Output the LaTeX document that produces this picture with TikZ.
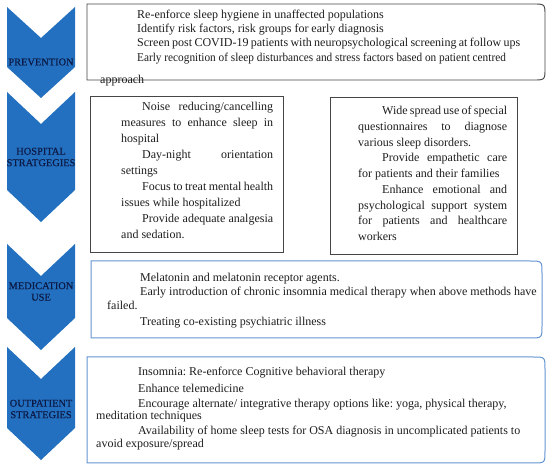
\documentclass[tikz,border=0pt]{standalone}
\usepackage{graphicx}
\usepackage{fontspec}
\setmainfont{Liberation Serif}
\newfontfamily\chevfont[FakeBold=0.5]{Liberation Serif}
\frenchspacing
\definecolor{chev}{RGB}{36,112,192}
\definecolor{chevtxt}{RGB}{12,26,70}
\definecolor{greyline}{RGB}{70,70,70}
\definecolor{blueline}{RGB}{100,150,210}
\definecolor{txt}{RGB}{30,30,30}
\newcommand\jl[2]{\makebox[#1pt][s]{#2}}
\begin{document}
\begin{tikzpicture}[x=1pt,y=-1pt,
  chevron/.style={fill=chev,draw=none},
  chevlabel/.style={font=\chevfont\fontsize{10.4}{11.5}\selectfont,text=chevtxt,align=center,inner sep=0},
  greybox/.style={draw=greyline,line width=0.9pt,fill=white},
  bluebox/.style={draw=blueline,line width=1pt,fill=white},
  tx/.style={anchor=base west,inner sep=0,text=txt,font=\fontsize{12}{14}\selectfont}]
\useasboundingbox (0,0) rectangle (550,468);
\fill[white] (0,0) rectangle (550,468);
% chevrons
\draw[chevron] (7,7) -- (41,38) -- (75,7) -- (75,67) -- (41,98) -- (7,67) -- cycle;
\draw[chevron] (7,92) -- (41,124) -- (75,92) -- (75,190) -- (41,222) -- (7,190) -- cycle;
\draw[chevron] (7,244) -- (41,276) -- (75,244) -- (75,318) -- (41,350) -- (7,318) -- cycle;
\draw[chevron] (7,347) -- (41,379) -- (75,347) -- (75,428) -- (41,460) -- (7,428) -- cycle;
\node[chevlabel] (c1) at (41,62) {PREVENTION};
\node[chevlabel] (c2) at (41,157) {HOSPITAL\\STRATGEGIES};
\node[chevlabel] (c3) at (41,291.5) {MEDICATION\\USE};
\node[chevlabel] (c4) at (41,409) {OUTPATIENT\\STRATEGIES};
% boxes
\draw[greybox] (87,4) -- (533,4) .. controls (545,4) .. (545,16) -- (545,68) .. controls (545,80) .. (533,80) -- (87,80) -- cycle;
\draw[greybox] (90,96) rectangle (283,252);
\draw[greybox] (330,97) rectangle (517,254);
\draw[bluebox] (91,261) -- (530,261) .. controls (542,261) .. (542,273) -- (542,326) .. controls (542,338) .. (530,338) -- (91,338) -- cycle;
\draw[bluebox] (87,357) -- (533,357) .. controls (545,357) .. (545,369) -- (545,451) .. controls (545,463) .. (533,463) -- (87,463) -- cycle;
% prevention text
\node[tx] (p1) at (137,19) {Re-enforce sleep hygiene in unaffected populations};
\node[tx] (p2) at (137,33) {Identify risk factors, risk groups for early diagnosis};
\node[tx] (p3) at (137,47) {\jl{383}{Screen post COVID-19 patients with neuropsychological screening at follow ups}};
\node[tx] (p4) at (137,62) {\scalebox{0.94}[1]{Early recognition of sleep disturbances and stress factors based on patient centred}};
\node[tx] (p5) at (100,84) {approach};
% hospital left
\node[tx] (h1) at (142,111) {\jl{131}{Noise reducing/cancelling}};
\node[tx] (h2) at (121,127) {\jl{152}{measures to enhance sleep in}};
\node[tx] (h3) at (121,143) {hospital};
\node[tx] (h4) at (142,159) {\jl{131}{Day-night orientation}};
\node[tx] (h5) at (121,175) {settings};
\node[tx] (h6) at (142,191) {\jl{131}{Focus to treat mental health}};
\node[tx] (h7) at (121,207) {issues while hospitalized};
\node[tx] (h8) at (142,223) {\jl{131}{Provide adequate analgesia}};
\node[tx] (h9) at (121,239) {and sedation.};
% hospital right
\node[tx] (r1) at (382,115) {\jl{125}{Wide spread use of special}};
\node[tx] (r2) at (358,131) {\jl{149}{questionnaires to diagnose}};
\node[tx] (r3) at (358,146.5) {various sleep disorders.};
\node[tx] (r4) at (382,162) {\jl{125}{Provide empathetic care}};
\node[tx] (r5) at (358,178) {for patients and their families};
\node[tx] (r6) at (382,194) {\jl{125}{Enhance emotional and}};
\node[tx] (r7) at (358,209.5) {\jl{149}{psychological support system}};
\node[tx] (r8) at (358,225) {\jl{149}{for patients and healthcare}};
\node[tx] (r9) at (358,241) {workers};
% medication
\node[tx] (m1) at (140,282) {Melatonin and melatonin receptor agents.};
\node[tx] (m2) at (140,296) {Early introduction of chronic insomnia medical therapy when above methods have};
\node[tx] (m3) at (107,310) {failed.};
\node[tx] (m4) at (140,326) {Treating co-existing psychiatric illness};
% outpatient
\node[tx] (o1) at (138,376) {Insomnia: Re-enforce Cognitive behavioral therapy};
\node[tx] (o2) at (138,393) {Enhance telemedicine};
\node[tx] (o3) at (138,407) {Encourage alternate/ integrative therapy options like: yoga, physical therapy,};
\node[tx] (o4) at (96,420) {meditation techniques};
\node[tx] (o5) at (138,435) {Availability of home sleep tests for OSA diagnosis in uncomplicated patients to};
\node[tx] (o6) at (96,448) {avoid exposure/spread};
\end{tikzpicture}
\end{document}
